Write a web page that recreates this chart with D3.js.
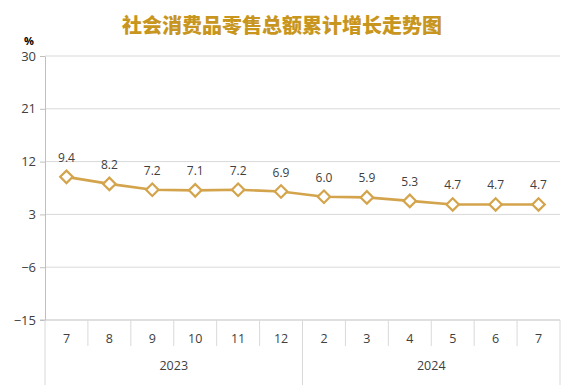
<!DOCTYPE html>
<html><head><meta charset="utf-8">
<script src="https://cdn.jsdelivr.net/npm/d3@7"></script>
<style>body{margin:0;background:#fff;} svg{display:block;font-family:"Open Sans","DejaVu Sans",sans-serif;}</style>
</head><body><svg id="c" width="568" height="392"></svg>
<script>
const months = ["7","8","9","10","11","12","2","3","4","5","6","7"];
const years = [{label:"2023", start:0, end:6},{label:"2024", start:6, end:12}];
const values = [9.4,8.2,7.2,7.1,7.2,6.9,6.0,5.9,5.3,4.7,4.7,4.7];
const yTicks = [-15,-6,3,12,21,30];
const title = "社会消费品零售总额累计增长走势图";

const svg = d3.select("#c");
const L=45, R=560, T=56, B=320;
const x = d3.scaleBand().domain(d3.range(months.length)).range([L,R]);
const y = d3.scaleLinear().domain([-15,30]).range([B,T]);
const gold = "#d4a44c", grid="#d9d9d9", txt="#404040";

svg.append("text").attr("x",282).attr("y",33).attr("text-anchor","middle")
  .attr("font-family","'Noto Sans CJK SC',sans-serif").attr("font-weight","900")
  .attr("font-size",20).attr("fill","#c8961e").text(title);
svg.append("text").attr("x",29).attr("y",45).attr("text-anchor","middle")
  .attr("font-weight","bold").attr("font-size",11).attr("fill","#000").text("%");

// gridlines
svg.append("g").selectAll("line").data(yTicks.filter(d=>d!==-15)).join("line")
  .attr("x1",L).attr("x2",R).attr("y1",d=>y(d)).attr("y2",d=>y(d)).attr("stroke",grid);

// y axis
const ya = d3.axisLeft(y).tickValues(yTicks).tickSize(5).tickSizeOuter(0).tickPadding(4);
const yg = svg.append("g").attr("transform",`translate(${L},0)`).call(ya);
yg.select(".domain").attr("stroke","#bfbfbf");
yg.selectAll(".tick line").attr("stroke","#bfbfbf");
yg.selectAll("text").attr("font-size",13).attr("fill",txt).attr("font-family","'Open Sans',sans-serif");

// x axis baseline
svg.append("line").attr("x1",L-5).attr("x2",R).attr("y1",B).attr("y2",B).attr("stroke","#bfbfbf");
// month separators
svg.append("g").selectAll("line").data(d3.range(1,months.length)).join("line")
  .attr("x1",d=>x(d)).attr("x2",d=>x(d)).attr("y1",B).attr("y2",B+26).attr("stroke","#d9d9d9");
// year separators
const ybounds=[0,6,12];
svg.append("g").selectAll("line").data(ybounds).join("line")
  .attr("x1",d=>d===12?R:x(d)).attr("x2",d=>d===12?R:x(d)).attr("y1",B).attr("y2",B+65).attr("stroke","#d9d9d9");
svg.append("g").selectAll("text").data(months).join("text")
  .attr("x",(d,i)=>x(i)+x.bandwidth()/2).attr("y",B+23).attr("text-anchor","middle")
  .attr("font-size",12.5).attr("fill",txt).text(d=>d);
svg.append("g").selectAll("text").data(years).join("text")
  .attr("x",d=>(x(d.start)+(d.end===12?R:x(d.end)))/2).attr("y",B+50).attr("text-anchor","middle")
  .attr("font-size",12.5).attr("fill",txt).text(d=>d.label);

// line
const cx=i=>x(i)+x.bandwidth()/2;
svg.append("path").datum(values).attr("fill","none").attr("stroke",gold).attr("stroke-width",2.6)
  .attr("d",d3.line().x((d,i)=>cx(i)).y(d=>y(d)));
svg.append("g").selectAll("path").data(values).join("path")
  .attr("d",d3.symbol(d3.symbolSquare,78)()).attr("fill","#fff").attr("stroke",gold).attr("stroke-width",2.2)
  .attr("transform",(d,i)=>`translate(${cx(i)},${y(d)}) rotate(45)`);
svg.append("g").selectAll("text").data(values).join("text")
  .attr("x",(d,i)=>cx(i)).attr("y",d=>y(d)-15).attr("text-anchor","middle")
  .attr("font-size",12).attr("fill",txt).text(d=>d.toFixed(1));
</script></body></html>
